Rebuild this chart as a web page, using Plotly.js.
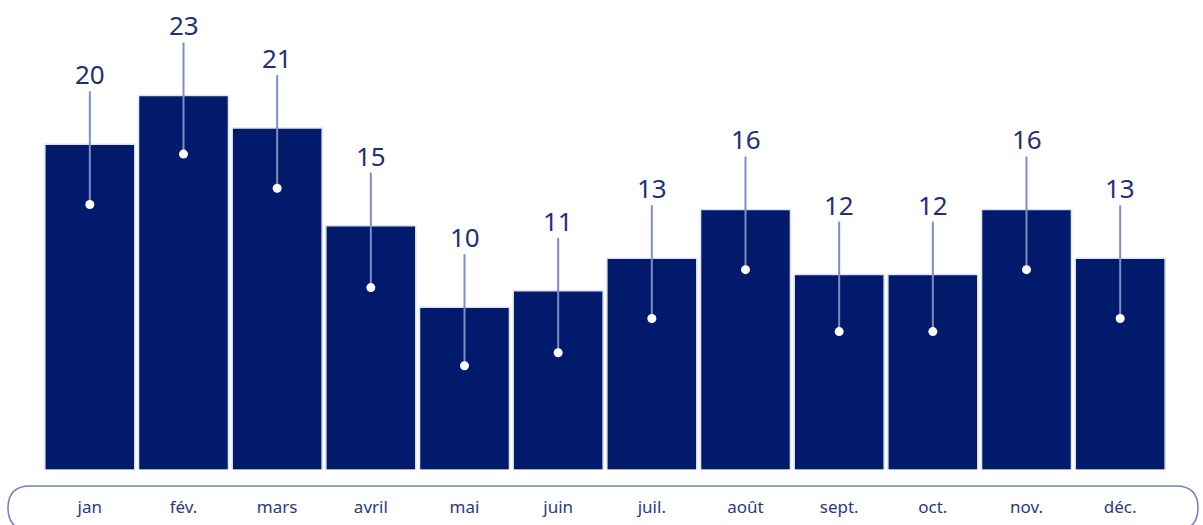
<!DOCTYPE html>
<html>
<head>
<meta charset="utf-8">
<script src="https://cdn.plot.ly/plotly-3.0.1.min.js"></script>
<style>html,body{margin:0;padding:0;background:#fff;}#chart{width:1203px;height:525px;}</style>
</head>
<body>
<div id="chart"></div>
<script>
const months = ['jan','fév.','mars','avril','mai','juin','juil.','août','sept.','oct.','nov.','déc.'];
const values = [20, 23, 21, 15, 10, 11, 13, 16, 12, 12, 16, 13];
const dotValues = [16.3, 19.4, 17.3, 11.2, 6.4, 7.2, 9.3, 12.3, 8.5, 8.5, 12.3, 9.3];

const navy = '#011a6b';
const slate = '#7e8dc2';
const textColor = '#1f2f78';
const font = 'Noto Sans, Open Sans, sans-serif';
const stemAbove = 3.25; // stem extends above bar top (style)

const bars = {
  type: 'bar', x: months, y: values,
  marker: {color: navy, line: {color: '#dfe3f1', width: 1.5}},
  hoverinfo: 'skip'
};
const stems = {
  type: 'scatter', mode: 'markers', x: months, y: dotValues,
  marker: {color: '#ffffff', size: 9},
  error_y: {
    type: 'data', symmetric: false,
    array: values.map((v, i) => v + stemAbove - dotValues[i]),
    arrayminus: values.map(() => 0),
    width: 0, thickness: 2, color: slate
  },
  hoverinfo: 'skip'
};

const annotations = months.map((m, i) => ({
  x: m, y: values[i], xref: 'x', yref: 'y',
  text: String(values[i]), showarrow: false,
  yanchor: 'middle', yshift: 70,
  font: {family: font, size: 26, color: textColor}
}));

const layout = {
  width: 1203, height: 525,
  margin: {l: 43, r: 36, t: 14, b: 55},
  paper_bgcolor: '#ffffff', plot_bgcolor: '#ffffff',
  showlegend: false,
  bargap: 0.04,
  xaxis: {
    type: 'category', range: [-0.5, 11.5], showgrid: false, zeroline: false,
    showline: false, ticks: '', ticklabelstandoff: 25,
    tickfont: {family: font, size: 17, color: '#2a3a80'}
  },
  yaxis: {range: [0, 28], visible: false, showgrid: false, zeroline: false},
  annotations: annotations,
  shapes: [{
    type: 'path', xref: 'paper', yref: 'paper',
    xsizemode: 'pixel', ysizemode: 'pixel', xanchor: 0, yanchor: 0,
    path: 'M -13 -16 L 1133 -16 Q 1155 -16 1155 -38 Q 1155 -60 1133 -60 L -13 -60 Q -35 -60 -35 -38 Q -35 -16 -13 -16 Z',
    line: {color: '#6f80b8', width: 1.5}, fillcolor: 'rgba(0,0,0,0)', layer: 'below'
  }]
};

Plotly.newPlot('chart', [bars, stems], layout, {displayModeBar: false, staticPlot: true});
</script>
</body>
</html>
